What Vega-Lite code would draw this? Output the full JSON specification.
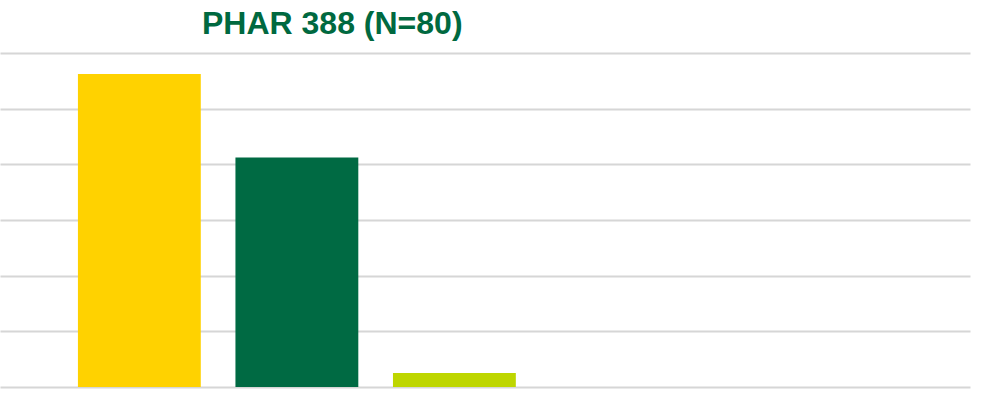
{
  "$schema": "https://vega.github.io/schema/vega-lite/v6.json",
  "autosize": {"type": "none"},
  "padding": {"top": 53, "left": 0, "right": 12, "bottom": 15},
  "width": 970,
  "height": 334,
  "background": "white",
  "title": {
    "text": "PHAR 388 (N=80)",
    "anchor": "start",
    "dx": 202,
    "offset": -13,
    "baseline": "alphabetic",
    "font": "Liberation Sans",
    "fontSize": 32,
    "fontWeight": "bold",
    "color": "#006940"
  },
  "data": {
    "values": [
      {"grade": "A", "percent": 56.25},
      {"grade": "B", "percent": 41.25},
      {"grade": "C", "percent": 2.5},
      {"grade": "D", "percent": 0},
      {"grade": "F", "percent": 0}
    ]
  },
  "mark": {"type": "bar", "strokeWidth": 0},
  "encoding": {
    "x": {
      "field": "grade",
      "type": "nominal",
      "sort": null,
      "scale": {"type": "band", "domain": ["A", "B", "C", "D", "F"], "paddingInner": 0.22, "paddingOuter": 0.689, "align": 0.359},
      "axis": null
    },
    "y": {
      "field": "percent",
      "type": "quantitative",
      "scale": {"domain": [0, 60], "nice": false, "zero": true},
      "axis": {
        "values": [0, 10, 20, 30, 40, 50, 60],
        "labels": false,
        "ticks": false,
        "domain": false,
        "title": null,
        "grid": true,
        "gridColor": "#D6D6D6",
        "gridWidth": 1.8
      }
    },
    "color": {
      "field": "grade",
      "type": "nominal",
      "scale": {"domain": ["A", "B", "C", "D", "F"], "range": ["#FFD200", "#006A43", "#BED600", "#888888", "#888888"]},
      "legend": null
    }
  },
  "config": {"view": {"stroke": null}}
}
